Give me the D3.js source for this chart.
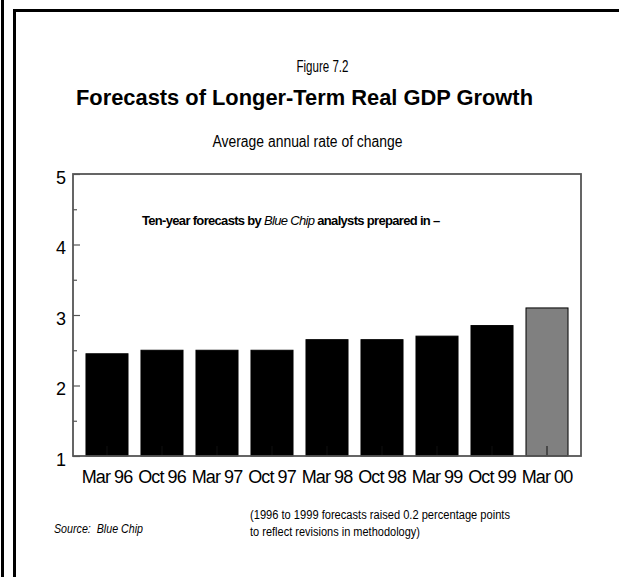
<!DOCTYPE html>
<html>
<head>
<meta charset="utf-8">
<script src="https://cdn.jsdelivr.net/npm/d3@7"></script>
<style>
  html, body { margin: 0; padding: 0; background: #fff; }
  svg { display: block; font-family: "Liberation Sans", Arial, sans-serif; }
</style>
</head>
<body>
<div id="chart"></div>
<script>
// ---- data ----
const categories = ["Mar 96", "Oct 96", "Mar 97", "Oct 97", "Mar 98", "Oct 98", "Mar 99", "Oct 99", "Mar 00"];
const values = [2.45, 2.5, 2.5, 2.5, 2.65, 2.65, 2.7, 2.85, 3.1];
const highlight = ["Mar 00"];
const yTicks = [1, 2, 3, 4, 5];
const yMinorTicks = [1.5, 2.5, 3.5, 4.5];
const figureLabel = "Figure 7.2";
const title = "Forecasts of Longer-Term Real GDP Growth";
const subtitle = "Average annual rate of change";
const noteLines = ["(1996 to 1999 forecasts raised 0.2 percentage points", "to reflect revisions in methodology)"];

const W = 619, H = 577;
const svg = d3.select("#chart").append("svg").attr("width", W).attr("height", H);

// page frame lines
svg.append("rect").attr("x", 1).attr("y", 0).attr("width", 3).attr("height", H).attr("fill", "#000");
svg.append("rect").attr("x", 13).attr("y", 9).attr("width", 3).attr("height", H - 9).attr("fill", "#000");
svg.append("rect").attr("x", 13).attr("y", 9).attr("width", W - 13).attr("height", 3).attr("fill", "#000");

// plot area
const plot = { left: 73, right: 581, top: 174, bottom: 456 };

const x = d3.scaleBand().domain(categories).range([plot.left, plot.right])
  .paddingInner(0.236).paddingOuter(0.236);
const y = d3.scaleLinear().domain([1, 5]).range([plot.bottom, plot.top]);

// bars
svg.append("g").selectAll("rect").data(categories).join("rect")
  .attr("x", d => x(d))
  .attr("y", (d, i) => y(values[i]))
  .attr("width", x.bandwidth())
  .attr("height", (d, i) => y(1) - y(values[i]))
  .attr("fill", d => highlight.includes(d) ? "#808080" : "#000")
  .attr("stroke", "#000")
  .attr("stroke-width", 1);

const axisColor = "#555";

// x axis
const gx = svg.append("g").attr("transform", `translate(0,${plot.bottom})`)
  .call(d3.axisBottom(x).tickSize(-10).tickSizeOuter(0).tickPadding(14));
gx.select(".domain").remove();
gx.selectAll(".tick line").attr("stroke", "#111");
gx.selectAll(".tick text").attr("font-size", 18).attr("fill", "#000")
  .attr("font-family", "'Liberation Sans', Arial, sans-serif")
  .attr("letter-spacing", "-0.9px");

// y axis minor ticks
const gyMinor = svg.append("g").attr("transform", `translate(${plot.left},0)`)
  .call(d3.axisLeft(y).tickValues(yMinorTicks).tickSize(-4).tickSizeOuter(0).tickFormat(""));
gyMinor.select(".domain").remove();
gyMinor.selectAll(".tick line").attr("stroke", axisColor).attr("stroke-width", 1.2);

// y axis major
const gy = svg.append("g").attr("transform", `translate(${plot.left},0)`)
  .call(d3.axisLeft(y).tickValues(yTicks).tickSize(-7).tickSizeOuter(0).tickPadding(7).tickFormat(d3.format("d")));
gy.select(".domain").remove();
gy.selectAll(".tick line").attr("stroke", axisColor).attr("stroke-width", 1.2);
gy.selectAll(".tick text").attr("font-size", 18).attr("fill", "#000")
  .attr("font-family", "'Liberation Sans', Arial, sans-serif")
  .attr("dy", "0.52em");

// plot frame
svg.append("rect")
  .attr("x", plot.left).attr("y", plot.top)
  .attr("width", plot.right - plot.left).attr("height", plot.bottom - plot.top)
  .attr("fill", "none").attr("stroke", axisColor).attr("stroke-width", 1.8);

// titles
function addText(str, opts) {
  const t = svg.append("text")
    .attr("x", opts.x).attr("y", opts.y)
    .attr("text-anchor", opts.anchor || "start")
    .attr("font-size", opts.size)
    .attr("font-weight", opts.weight || "normal")
    .attr("font-style", opts.style || "normal")
    .attr("fill", "#000")
    .text(str);
  if (opts.len) t.attr("textLength", opts.len).attr("lengthAdjust", "spacingAndGlyphs");
  return t;
}

addText(figureLabel, { x: 322.5, y: 72, anchor: "middle", size: 16, len: 52 });
addText(title, { x: 304.5, y: 105, anchor: "middle", size: 22, weight: "bold", len: 457 });
addText(subtitle, { x: 307.5, y: 147, anchor: "middle", size: 16, len: 190 });

// annotation inside plot
const ann = svg.append("text").attr("x", 142).attr("y", 225)
  .attr("font-size", 13).attr("fill", "#000")
  .attr("letter-spacing", "-0.68px");
ann.append("tspan").attr("font-weight", "bold").text("Ten-year forecasts by ");
ann.append("tspan").attr("font-style", "italic").text("Blue Chip");
ann.append("tspan").attr("font-weight", "bold").text(" analysts prepared in \u2013");

// source
svg.append("text").attr("x", 54).attr("y", 533)
  .attr("font-size", 12).attr("font-style", "italic").attr("fill", "#000")
  .attr("textLength", 89).attr("lengthAdjust", "spacingAndGlyphs")
  .style("white-space", "pre")
  .text("Source:  Blue Chip");

// note
addText(noteLines[0], { x: 250, y: 519, size: 12.5, len: 260 });
addText(noteLines[1], { x: 250, y: 536, size: 12.5, len: 170 });
</script>
</body>
</html>
